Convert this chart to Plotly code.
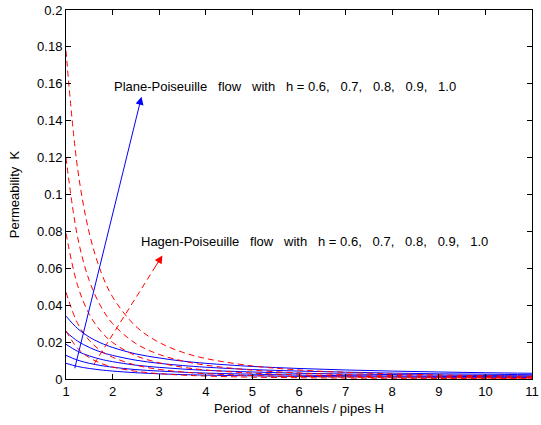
import plotly.graph_objects as go

# Period H sample points
H = [1, 1.25, 1.5, 1.75, 2, 2.5, 3, 3.5, 4, 5, 6, 7, 8, 9, 10, 11]

# Plane-Poiseuille (solid blue), h = 1.0, 0.9, 0.8, 0.7, 0.6
blue_h10 = [0.0341, 0.0273, 0.0227, 0.0195, 0.0171, 0.0136, 0.0114, 0.0097, 0.0085, 0.0068, 0.0057, 0.0049, 0.0043, 0.0038, 0.0034, 0.0031]
blue_h09 = [0.0256, 0.0205, 0.0171, 0.0146, 0.0128, 0.0102, 0.0085, 0.0073, 0.0064, 0.0051, 0.0043, 0.0037, 0.0032, 0.0028, 0.0026, 0.0023]
blue_h08 = [0.0188, 0.0150, 0.0125, 0.0107, 0.0094, 0.0075, 0.0063, 0.0054, 0.0047, 0.0038, 0.0031, 0.0027, 0.0024, 0.0021, 0.0019, 0.0017]
blue_h07 = [0.0128, 0.0102, 0.0085, 0.0073, 0.0064, 0.0051, 0.0043, 0.0037, 0.0032, 0.0026, 0.0021, 0.0018, 0.0016, 0.0014, 0.0013, 0.0012]
blue_h06 = [0.0085, 0.0068, 0.0057, 0.0049, 0.0043, 0.0034, 0.0028, 0.0024, 0.0021, 0.0017, 0.0014, 0.0012, 0.0011, 0.0009, 0.0009, 0.0008]

# Hagen-Poiseuille (dashed red), h = 1.0, 0.9, 0.8, 0.7, 0.6
red_h10 = [0.178, 0.1139, 0.0791, 0.0581, 0.0445, 0.0285, 0.0198, 0.0145, 0.0111, 0.0071, 0.0049, 0.0036, 0.0028, 0.0022, 0.0018, 0.0015]
red_h09 = [0.120, 0.0768, 0.0533, 0.0392, 0.0300, 0.0192, 0.0133, 0.0098, 0.0075, 0.0048, 0.0033, 0.0024, 0.0019, 0.0015, 0.0012, 0.0010]
red_h08 = [0.079, 0.0506, 0.0351, 0.0258, 0.0198, 0.0126, 0.0088, 0.0064, 0.0049, 0.0032, 0.0022, 0.0016, 0.0012, 0.0010, 0.0008, 0.0007]
red_h07 = [0.047, 0.0301, 0.0209, 0.0153, 0.0118, 0.0075, 0.0052, 0.0038, 0.0029, 0.0019, 0.0013, 0.0010, 0.0007, 0.0006, 0.0005, 0.0004]
red_h06 = [0.026, 0.0166, 0.0116, 0.0085, 0.0065, 0.0042, 0.0029, 0.0021, 0.0016, 0.0010, 0.0007, 0.0005, 0.0004, 0.0003, 0.0003, 0.0002]

x_ticks = [1, 2, 3, 4, 5, 6, 7, 8, 9, 10, 11]
y_ticks = [0, 0.02, 0.04, 0.06, 0.08, 0.1, 0.12, 0.14, 0.16, 0.18, 0.2]
y_ticklabels = ["0", "0.02", "0.04", "0.06", "0.08", "0.1", "0.12", "0.14", "0.16", "0.18", "0.2"]

# Arrow endpoints (data coords): [x_start, y_start, x_end, y_end]
blue_arrow = [1.18, 0.005, 2.62, 0.153]
red_arrow = [1.6, 0.008, 3.07, 0.067]

G = "\u00a0\u00a0 "
label_plane = "Plane-Poiseuille" + G + "flow" + G + "with" + G + "h = 0.6," + G + "0.7," + G + "0.8," + G + "0.9," + G + "1.0"
label_hagen = "Hagen-Poiseuille" + G + "flow" + G + "with" + G + "h = 0.6," + G + "0.7," + G + "0.8," + G + "0.9," + G + "1.0"

FONT = "Liberation Sans, Arial, Helvetica, sans-serif"

fig = go.Figure()
for ys in [blue_h10, blue_h09, blue_h08, blue_h07, blue_h06]:
    fig.add_trace(go.Scatter(x=H, y=ys, mode="lines",
                             line=dict(color="#0000ff", width=1, shape="spline"),
                             showlegend=False, hoverinfo="skip"))
for ys in [red_h10, red_h09, red_h08, red_h07, red_h06]:
    fig.add_trace(go.Scatter(x=H, y=ys, mode="lines",
                             line=dict(color="#ff0000", width=1, dash="6px,4px", shape="spline"),
                             showlegend=False, hoverinfo="skip"))

# red dashed arrow shaft
fig.add_trace(go.Scatter(x=[red_arrow[0], red_arrow[2]], y=[red_arrow[1], red_arrow[3]],
                         mode="lines", line=dict(color="#ff0000", width=1, dash="6px,4px"),
                         showlegend=False, hoverinfo="skip"))

# blue arrow
fig.add_annotation(x=blue_arrow[2], y=blue_arrow[3], ax=blue_arrow[0], ay=blue_arrow[1],
                   xref="x", yref="y", axref="x", ayref="y", text="", showarrow=True,
                   arrowhead=2, arrowsize=1.6, arrowwidth=1, arrowcolor="#0000ff")
# red arrow head
fx = red_arrow[2] - (red_arrow[2] - red_arrow[0]) * 0.12
fy = red_arrow[3] - (red_arrow[3] - red_arrow[1]) * 0.12
fig.add_annotation(x=red_arrow[2], y=red_arrow[3], ax=fx, ay=fy,
                   xref="x", yref="y", axref="x", ayref="y", text="", showarrow=True,
                   arrowhead=2, arrowsize=1.6, arrowwidth=1, arrowcolor="#ff0000")

fig.add_annotation(x=1.0, y=0.1588, xref="x", yref="y", text=label_plane, showarrow=False,
                   xanchor="left", yanchor="middle", xshift=46,
                   font=dict(family=FONT, size=13, color="black"))
fig.add_annotation(x=1.0, y=0.0745, xref="x", yref="y", text=label_hagen, showarrow=False,
                   xanchor="left", yanchor="middle", xshift=73,
                   font=dict(family=FONT, size=13, color="black"))

axis_common = dict(showline=True, linecolor="black", linewidth=1, mirror="ticks",
                   ticks="inside", ticklen=5, tickcolor="black", showgrid=False,
                   zeroline=False, automargin=False, ticklabeloverflow="allow",
                   tickfont=dict(family=FONT, size=13, color="black"))

fig.update_xaxes(range=[1, 11], tickvals=x_ticks, ticktext=[str(v) for v in x_ticks],
                 title=dict(text="Period\u00a0 of\u00a0 channels / pipes H", standoff=6,
                            font=dict(family=FONT, size=13, color="black")),
                 **axis_common)
fig.update_yaxes(range=[0, 0.2], tickvals=y_ticks, ticktext=y_ticklabels,
                 title=dict(text="Permeability\u00a0 K", standoff=14,
                            font=dict(family=FONT, size=13, color="black")),
                 **axis_common)

fig.update_layout(width=541, height=425,
                  margin=dict(l=66, r=9, t=10, b=46, pad=0),
                  paper_bgcolor="white", plot_bgcolor="white")

# remove the default 8px page margin so the figure fills the window exactly
fig.write_html("out.html", config={"displayModeBar": False},
               post_script="document.body.style.margin='0';")
